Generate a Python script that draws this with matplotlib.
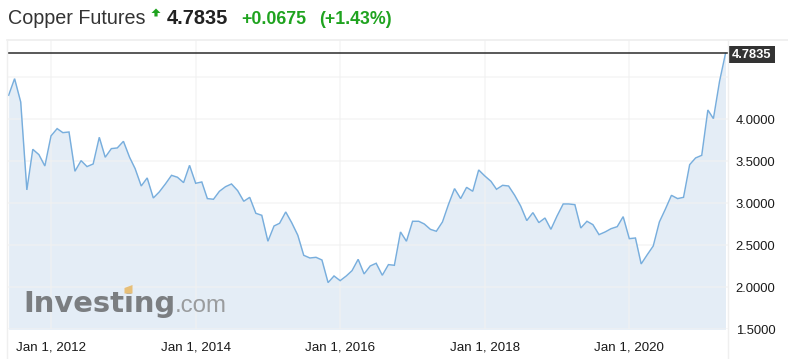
import matplotlib
matplotlib.use("Agg")
import matplotlib.pyplot as plt
import matplotlib.dates as mdates
from matplotlib.patches import Polygon, Rectangle
from matplotlib.lines import Line2D
import pandas as pd

# Monthly copper futures closes, June 2011 - May 2021 (USD/lb)
start_month = "2011-06-01"
prices = [
    4.286, 4.484, 4.206, 3.159, 3.643, 3.579, 3.444, 3.802, 3.889, 3.841,
    3.849, 3.381, 3.508, 3.437, 3.468, 3.786, 3.548, 3.651, 3.659, 3.738,
    3.548, 3.413, 3.206, 3.302, 3.063,
    3.135, 3.230, 3.333, 3.310, 3.246, 3.452, 3.238, 3.254, 3.056, 3.048,
    3.143, 3.198, 3.230, 3.151, 3.024, 3.071, 2.881, 2.857, 2.548, 2.730,
    2.762, 2.897, 2.770, 2.620,
    2.381, 2.349, 2.357, 2.325, 2.056, 2.135, 2.079, 2.135, 2.198, 2.333,
    2.159, 2.254, 2.286, 2.143, 2.270, 2.262, 2.659, 2.548, 2.786, 2.786,
    2.754, 2.690, 2.667, 2.778,
    2.984, 3.175, 3.056, 3.190, 3.143, 3.397, 3.325, 3.262, 3.167, 3.214,
    3.206, 3.095, 2.968, 2.794, 2.889, 2.770, 2.825, 2.690, 2.849, 2.992,
    2.992, 2.984, 2.706, 2.786,
    2.746, 2.627, 2.659, 2.698, 2.722, 2.841, 2.579, 2.587, 2.278, 2.389,
    2.492, 2.778, 2.929, 3.095, 3.056, 3.071, 3.460, 3.540, 3.571, 4.111,
    4.008, 4.452, 4.7835,
]
dates = pd.date_range(start_month, periods=len(prices), freq="MS")

title = "Copper Futures"
last_price = "4.7835"
change = "+0.0675"
change_pct = "(+1.43%)"
y_ticks = [1.5, 2.0, 2.5, 3.0, 3.5, 4.0, 4.5]
y_labels = ["1.5000", "2.0000", "2.5000", "3.0000", "3.5000", "4.0000", ""]
x_tick_years = [2012, 2014, 2016, 2018, 2020]

W, H = 788, 359
fig = plt.figure(figsize=(W / 100, H / 100), dpi=100)
fig.patch.set_facecolor("white")
plt.rcParams["font.family"] = ["Liberation Sans", "DejaVu Sans"]


def fx(x):
    return x / W


def fy(y):
    return 1 - y / H


# plot area in pixel terms
left_px, right_px, top_px, bottom_px = 7, 728, 40, 329.3
ax = fig.add_axes([fx(left_px), fy(bottom_px),
                   (right_px - left_px) / W, (bottom_px - top_px) / H])
ax.set_facecolor("white")

jan2012 = mdates.date2num(pd.Timestamp("2012-01-01"))
jan2020 = mdates.date2num(pd.Timestamp("2020-01-01"))
days_per_px = (jan2020 - jan2012) / (629.3 - 51.0)
ax.set_xlim(jan2012 - (51.0 - left_px) * days_per_px,
            jan2012 + (right_px - 51.0) * days_per_px)
ax.set_ylim(1.5, 4.944)

ax.fill_between(dates, prices, 1.5, color="#e4edf6", lw=0, zorder=1)
ax.plot(dates, prices, color="#78aedd", lw=1.05, zorder=3,
        solid_joinstyle="miter")

# grid
grid_kw = dict(color="#f1f1f1", lw=1.3, alpha=0.6, zorder=2)
for v in y_ticks:
    ax.axhline(v, **grid_kw)
tick_dates = [pd.Timestamp(f"{y}-01-01") for y in x_tick_years]
for d in tick_dates:
    ax.axvline(d, **grid_kw)

# last price line
last_val = prices[-1]
ax.axhline(last_val, color="#2b2b2b", lw=1.1, zorder=4)

for s in ax.spines.values():
    s.set_visible(False)

ax.yaxis.tick_right()
ax.set_yticks(y_ticks)
ax.set_yticklabels(y_labels)
ax.tick_params(axis="y", length=0, pad=5.5, labelsize=9.4, labelcolor="#1a1a1a")
ax.set_xticks(tick_dates)
ax.set_xticklabels([f"Jan 1, {y}" for y in x_tick_years])
ax.tick_params(axis="x", length=0, pad=9, labelsize=9.6, labelcolor="#1a1a1a")

# frame lines
fig.add_artist(Line2D([fx(left_px), 1], [fy(39.5), fy(39.5)],
                      color="#eeeeee", lw=1.2))
for xp in (left_px - 0.3, right_px):
    fig.add_artist(Line2D([fx(xp), fx(xp)], [fy(39.5), 0],
                          color="#efefef", lw=1.0))

# last price tag
fig.add_artist(Rectangle((fx(729), fy(62.7)), (775 - 729) / W, (62.7 - 46) / H,
                         facecolor="#333333", edgecolor="none"))
fig.text(fx(752), fy(54.5), last_price, color="white", fontsize=9.3,
         fontweight="bold", ha="center", va="center")

# header
fig.text(fx(8), fy(23.5), title, color="#333333", fontsize=14.2,
         va="baseline", ha="left")
green = "#1fa31f"
fig.add_artist(Polygon([(fx(151.5), fy(13)), (fx(156), fy(8.5)),
                        (fx(160.5), fy(13)), (fx(157.6), fy(13)),
                        (fx(157.6), fy(16.5)), (fx(154.4), fy(16.5)),
                        (fx(154.4), fy(13))],
                       closed=True, facecolor=green, edgecolor="none"))
fig.text(fx(167), fy(23.5), last_price, color="#222222", fontsize=14.4,
         fontweight="bold", va="baseline", ha="left")
fig.text(fx(241), fy(23.5), change, color=green, fontsize=12.8,
         fontweight="bold", va="baseline", ha="left")
fig.text(fx(319), fy(23.5), change_pct, color=green, fontsize=12.8,
         fontweight="bold", va="baseline", ha="left")

# watermark
fig.text(fx(23), fy(312), "Investing", color="#7b7e81", fontsize=20.9,
         fontweight="bold", family="DejaVu Sans", va="baseline", ha="left",
         zorder=5)
fig.text(fx(175), fy(312), ".com", color="#9a9c9e", fontsize=17.3,
         va="baseline", ha="left", zorder=5)
fig.add_artist(Polygon([(fx(124.5), fy(293.5)), (fx(124.5), fy(288)),
                        (fx(132.5), fy(285)), (fx(132.5), fy(293.5))],
                       closed=True, facecolor="#e7bf78", edgecolor="none",
                       zorder=6))

fig.savefig("out.png", dpi=100, facecolor="white")
